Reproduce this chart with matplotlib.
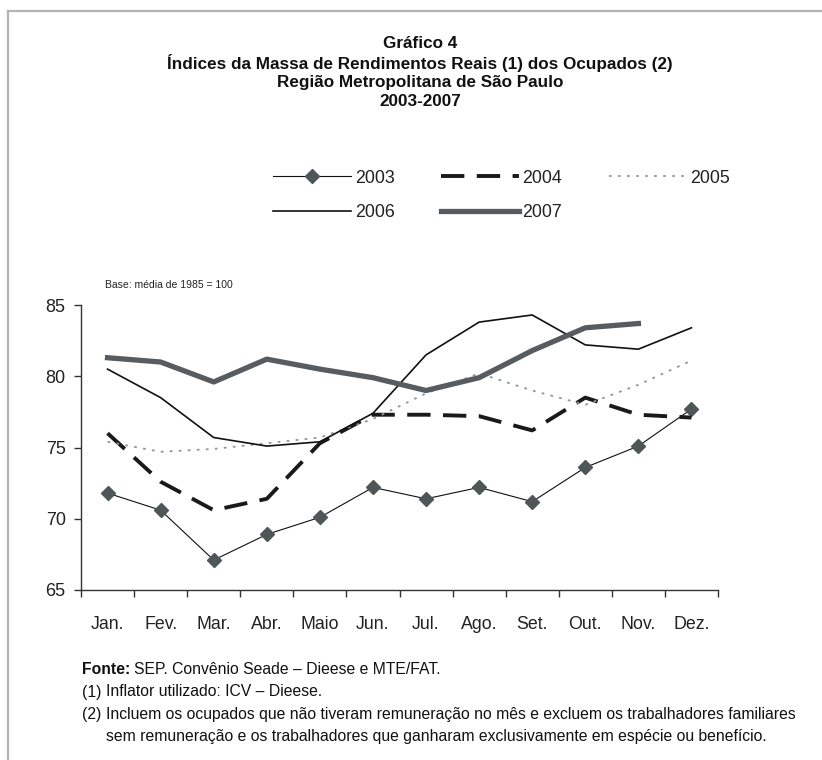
import matplotlib
matplotlib.use("Agg")
import matplotlib.pyplot as plt
from matplotlib.lines import Line2D

plt.rcParams['font.family'] = ['Liberation Sans Narrow', 'Liberation Sans', 'DejaVu Sans']

# Índices da massa de rendimentos reais (base: média de 1985 = 100)
meses = ['Jan.', 'Fev.', 'Mar.', 'Abr.', 'Maio', 'Jun.', 'Jul.', 'Ago.', 'Set.', 'Out.', 'Nov.', 'Dez.']
v2003 = [71.8, 70.6, 67.1, 68.9, 70.1, 72.2, 71.4, 72.2, 71.2, 73.6, 75.1, 77.7]
v2004 = [76.0, 72.6, 70.6, 71.4, 75.3, 77.3, 77.3, 77.2, 76.2, 78.5, 77.3, 77.1]
v2005 = [75.4, 74.7, 74.9, 75.3, 75.7, 77.0, 78.8, 80.2, 79.0, 78.0, 79.4, 81.1]
v2006 = [80.5, 78.5, 75.7, 75.1, 75.4, 77.4, 81.5, 83.8, 84.3, 82.2, 81.9, 83.4]
v2007 = [81.3, 81.0, 79.6, 81.2, 80.5, 79.9, 79.0, 79.9, 81.8, 83.4, 83.7]

fig = plt.figure(figsize=(8.22, 7.6), dpi=100)
ax = fig.add_axes([81 / 822, 1 - 590 / 760, 637 / 822, 285 / 760])

x = list(range(len(meses)))
l03, = ax.plot(x, v2003, color='#111111', lw=0.8, marker='D', markersize=7,
               markerfacecolor='#4e5658', markeredgecolor='#4e5658', label='2003')
l04, = ax.plot(x, v2004, color='#1a1a1a', lw=2.8, dashes=(6, 3.2), label='2004')
l05, = ax.plot(x, v2005, color='#8e969b', lw=1.3, dashes=(1.5, 3.5), label='2005')
l06, = ax.plot(x, v2006, color='#111111', lw=1.2, label='2006')
l07, = ax.plot(x[:len(v2007)], v2007, color='#565c5f', lw=3.8, label='2007')

ax.set_xlim(-0.5, len(meses) - 0.5)
ax.set_ylim(65, 85)
ax.set_yticks([65, 70, 75, 80, 85])
ax.set_xticks([i - 0.5 for i in range(len(meses) + 1)], minor=False)
ax.set_xticklabels([])
ax.set_xticks(x, minor=True)
ax.set_xticklabels(meses, minor=True)
ax.tick_params(axis='x', which='major', direction='out', length=5, width=1, color='#333333')
ax.tick_params(axis='x', which='minor', length=0, pad=19, labelsize=12.8, labelcolor='#222222')
ax.tick_params(axis='y', direction='out', length=5, width=1, color='#333333',
               labelsize=13, labelcolor='#222222', pad=6)
for s in ['top', 'right']:
    ax.spines[s].set_visible(False)
for s in ['left', 'bottom']:
    ax.spines[s].set_color('#333333')
    ax.spines[s].set_linewidth(1)

fig.text(105 / 822, 1 - 285 / 760, 'Base: média de 1985 = 100',
         fontsize=7.5, color='#222222', va='center', ha='left')

# ordem para preencher as colunas: 2003/2006, 2004/2007, 2005
handles = [l03, l06, l04, l07, l05]
leg = fig.legend(handles=handles, labels=[h.get_label() for h in handles],
                 loc='center left', bbox_to_anchor=(257 / 822, 1 - 195.5 / 760), ncol=3,
                 frameon=False, fontsize=12.8, handlelength=4.4, handletextpad=0.2,
                 columnspacing=2.6, labelspacing=1.0)
for t in leg.get_texts():
    t.set_color('#222222')

titulos = ['Gráfico 4',
           'Índices da Massa de Rendimentos Reais (1) dos Ocupados (2)',
           'Região Metropolitana de São Paulo',
           '2003-2007']
for i, t in enumerate(titulos):
    fig.text(420 / 822, 1 - (43 + 19.5 * i) / 760, t, ha='center', va='center',
             fontsize=12.3, fontweight='bold', color='#111111')

fs = 11.3
fy = [670, 692, 714, 737]
fonte = fig.text(82 / 822, 1 - fy[0] / 760, 'Fonte:', fontsize=fs, fontweight='bold',
                 va='center', ha='left', color='#111111')
fig.canvas.draw()
bb = fonte.get_window_extent()
fig.text((bb.x1 + 4) / 822, 1 - fy[0] / 760, 'SEP. Convênio Seade – Dieese e MTE/FAT.',
         fontsize=fs, va='center', ha='left', color='#111111')
rotulos = ['(1)', '(2)', '']
notas = ['Inflator utilizado: ICV – Dieese.',
         'Incluem os ocupados que não tiveram remuneração no mês e excluem os trabalhadores familiares',
         'sem remuneração e os trabalhadores que ganharam exclusivamente em espécie ou benefício.']
for yy, r, t in zip(fy[1:], rotulos, notas):
    fig.text(82 / 822, 1 - yy / 760, r, fontsize=fs, va='center', ha='left', color='#111111')
    fig.text(106 / 822, 1 - yy / 760, t, fontsize=fs, va='center', ha='left', color='#111111')

# moldura cinza (apenas esquerda e topo)
fig.add_artist(Line2D([8 / 822, 8 / 822], [0, 1 - 11 / 760], transform=fig.transFigure,
                      color='#b4b4b4', lw=1.6))
fig.add_artist(Line2D([8 / 822, 1], [1 - 11 / 760, 1 - 11 / 760], transform=fig.transFigure,
                      color='#b4b4b4', lw=1.6))

fig.savefig('out.png', dpi=100)
